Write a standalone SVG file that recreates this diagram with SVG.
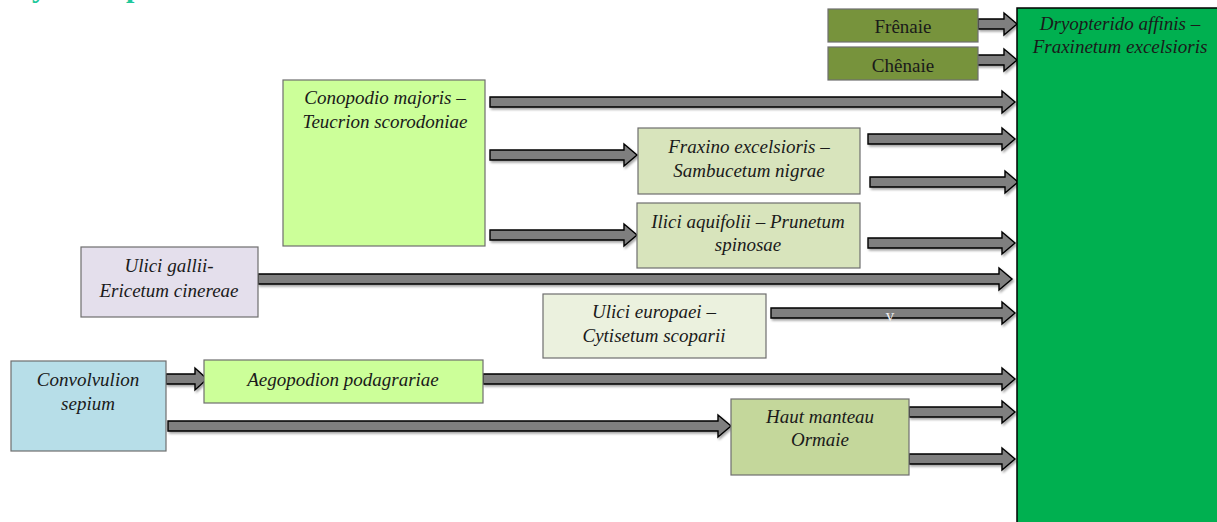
<svg xmlns="http://www.w3.org/2000/svg" width="1217" height="522" viewBox="0 0 1217 522">
<style>
.t{font-family:"Liberation Serif","Times New Roman",serif;font-size:19px;font-style:italic;fill:#1a1a1a;text-anchor:middle}
.tn{font-family:"Liberation Serif","Times New Roman",serif;font-size:19px;fill:#1a1a1a;text-anchor:middle}
.box{stroke:#6e6e6e;stroke-width:1.2}
.arr{fill:#7f7f7f;stroke:#000;stroke-width:1.4;stroke-linejoin:miter;filter:url(#sh)}
.ttl{font-family:"Liberation Serif","Times New Roman",serif;font-size:30px;font-weight:bold;fill:#1ec89b}
</style>
<defs>
<filter id="sh" x="-5%" y="-50%" width="110%" height="200%">
<feDropShadow dx="1.5" dy="2" stdDeviation="1.2" flood-color="#000" flood-opacity="0.35"/>
</filter>
</defs>
<rect width="1217" height="522" fill="#fff"/>
<text class="ttl" x="32" y="-3">y</text>
<text class="ttl" x="126" y="-3">p</text>

<g id="connectors">
<path class="arr" d="M978,19 H1004 V13 L1017,24 L1004,35 V29 H978 Z"/>
<path class="arr" d="M976,55 H1004 V49 L1017,60 L1004,71 V65 H976 Z"/>
<path class="arr" d="M490,97 H1002 V91 L1015,102 L1002,113 V107 H490 Z"/>
<path class="arr" d="M490,150 H624 V144 L637,155 L624,166 V160 H490 Z"/>
<path class="arr" d="M490,230 H624 V224 L637,235 L624,246 V240 H490 Z"/>
<path class="arr" d="M868,134 H1002 V128 L1015,139 L1002,150 V144 H868 Z"/>
<path class="arr" d="M870,177 H1005 V171 L1018,182 L1005,193 V187 H870 Z"/>
<path class="arr" d="M868,238 H1002 V232 L1015,243 L1002,254 V248 H868 Z"/>
<path class="arr" d="M258,274 H999 V268 L1012,279 L999,290 V284 H258 Z"/>
<path class="arr" d="M771,308 H1002 V302 L1015,313 L1002,324 V318 H771 Z"/>
<path class="arr" d="M166,374 H195 V368 L207,379 L195,390 V384 H166 Z"/>
<path class="arr" d="M483,374 H1002 V368 L1015,379 L1002,390 V384 H483 Z"/>
<path class="arr" d="M168,421 H718 V415 L731,426 L718,437 V431 H168 Z"/>
<path class="arr" d="M909,407 H1002 V401 L1015,412 L1002,423 V417 H909 Z"/>
<path class="arr" d="M909,454 H1002 V448 L1015,459 L1002,470 V464 H909 Z"/>
<text x="890" y="321" style="font-family:'Liberation Serif',serif;font-size:17px;fill:#f0f0f0;text-anchor:middle">v</text>
</g>

<g id="dryopterido">
<rect x="1017" y="8" width="202" height="516" fill="#00b050" stroke="#000" stroke-width="1.5"/>
<text class="t" x="1120" y="30">Dryopterido affinis –</text>
<text class="t" x="1120" y="53">Fraxinetum excelsioris</text>
</g>
<g id="frenaie">
<rect class="box" x="828" y="9" width="150" height="33" fill="#77933c" stroke="#4f6228"/>
<text class="tn" x="903" y="33">Frênaie</text>
</g>
<g id="chenaie">
<rect class="box" x="828" y="47" width="150" height="33" fill="#77933c" stroke="#4f6228"/>
<text class="tn" x="903" y="72">Chênaie</text>
</g>
<g id="conopodio">
<rect class="box" x="283" y="80" width="202" height="166" fill="#ccff99"/>
<text class="t" x="385" y="104">Conopodio majoris –</text>
<text class="t" x="385" y="128">Teucrion scorodoniae</text>
</g>
<g id="fraxino">
<rect class="box" x="638" y="128" width="222" height="66" fill="#d8e4bc"/>
<text class="t" x="749" y="153">Fraxino excelsioris –</text>
<text class="t" x="749" y="177">Sambucetum nigrae</text>
</g>
<g id="ilici">
<rect class="box" x="637" y="203" width="223" height="65" fill="#d8e4bc"/>
<text class="t" x="748" y="228">Ilici aquifolii – Prunetum</text>
<text class="t" x="748" y="251">spinosae</text>
</g>
<g id="ulici-gallii">
<rect class="box" x="81" y="247" width="177" height="70" fill="#e4dfec"/>
<text class="t" x="169" y="272">Ulici gallii-</text>
<text class="t" x="169" y="297">Ericetum cinereae</text>
</g>
<g id="ulici-europaei">
<rect class="box" x="543" y="294" width="223" height="64" fill="#ebf1de"/>
<text class="t" x="654" y="318">Ulici europaei –</text>
<text class="t" x="654" y="342">Cytisetum scoparii</text>
</g>
<g id="convolvulion">
<rect class="box" x="11" y="361" width="155" height="90" fill="#b7dee8"/>
<text class="t" x="88" y="386">Convolvulion</text>
<text class="t" x="88" y="410">sepium</text>
</g>
<g id="aegopodion">
<rect class="box" x="204" y="360" width="279" height="43" fill="#ccff99"/>
<text class="t" x="343" y="386">Aegopodion podagrariae</text>
</g>
<g id="haut-manteau">
<rect class="box" x="731" y="399" width="178" height="76" fill="#c4d79b"/>
<text class="t" x="820" y="423">Haut manteau</text>
<text class="t" x="820" y="446">Ormaie</text>
</g>
</svg>
